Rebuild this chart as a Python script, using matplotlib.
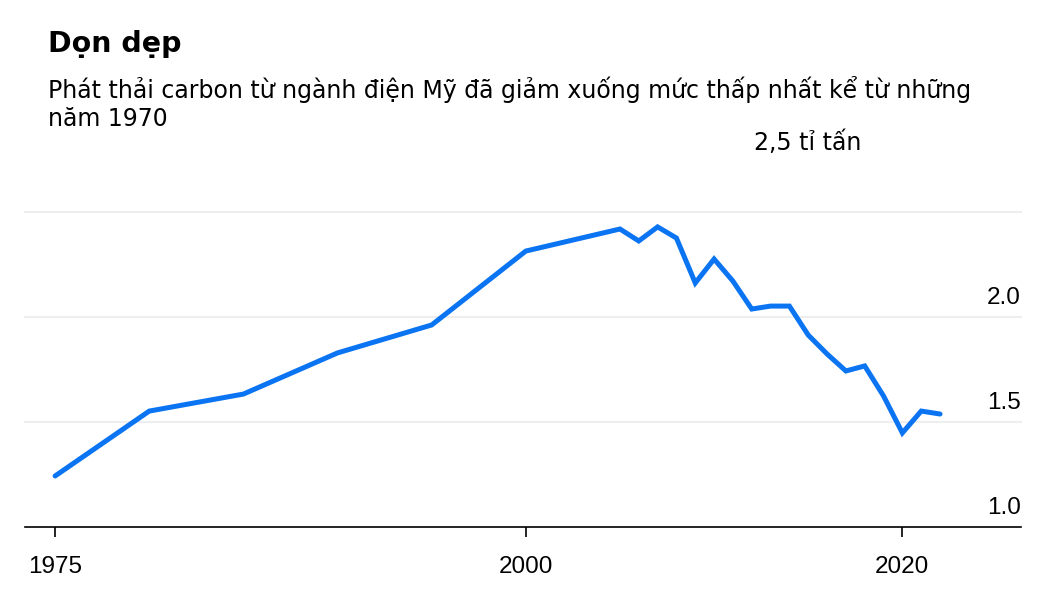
import matplotlib.pyplot as plt
import matplotlib.transforms as mtransforms

nam = [1975, 1980, 1985, 1990, 1995, 2000, 2005, 2006, 2007, 2008, 2009, 2010,
       2011, 2012, 2013, 2014, 2015, 2016, 2017, 2018, 2019, 2020, 2021, 2022]
phat_thai = [1.243, 1.552, 1.633, 1.829, 1.962, 2.314, 2.419, 2.362, 2.429, 2.376,
             2.162, 2.276, 2.171, 2.038, 2.052, 2.052, 1.914, 1.824, 1.743, 1.767,
             1.624, 1.448, 1.552, 1.538]

x_ticks = [1975, 2000, 2020]
y_grid = [1.5, 2.0, 2.5]
y_nhan = [1.0, 1.5, 2.0]

tieu_de = 'Dọn dẹp'
phu_de = 'Phát thải carbon từ ngành điện Mỹ đã giảm xuống mức thấp nhất kể từ những\nnăm 1970'
don_vi = '2,5 tỉ tấn'

fig = plt.figure(figsize=(10.59, 5.94), dpi=100)
ax = fig.add_axes([0.0236, 0.1128, 0.9405, 0.5303])

for g in y_grid:
    ax.axhline(g, color='#eeeeee', lw=1.5, zorder=0, clip_on=False)

ax.plot(nam, phat_thai, color='#0a74f2', lw=3.6, solid_joinstyle='miter',
        solid_capstyle='round', zorder=3, clip_on=False)

ax.set_xlim(1973.4, 2026.3)
ax.set_ylim(1.0, 2.5)

for s in ['top', 'right', 'left']:
    ax.spines[s].set_visible(False)
ax.spines['bottom'].set_linewidth(1.2)
ax.set_xticks(x_ticks)
ax.set_xticklabels([str(t) for t in x_ticks], fontsize=17.5, family='Liberation Sans')
ax.tick_params(axis='x', length=7, width=1.2, pad=14)
ax.set_yticks([])

trans = mtransforms.blended_transform_factory(ax.transAxes, ax.transData)
for v in y_nhan:
    ax.text(1.0, v + 0.04, f'{v:.1f}', transform=trans, ha='right', va='bottom',
            fontsize=17.5, family='Liberation Sans')

fig.text(48 / 1059, 1 - 44 / 594, tieu_de, fontsize=20.5, fontweight='bold',
         family='DejaVu Sans', va='center', ha='left')
fig.text(48 / 1059, 1 - 103.5 / 594, phu_de, fontsize=17, family='DejaVu Sans',
         va='center', ha='left', linespacing=1.23)
fig.text(808 / 1059, 1 - 143 / 594, don_vi, fontsize=17, family='DejaVu Sans',
         va='center', ha='center')

fig.savefig('out.png', dpi=100)
